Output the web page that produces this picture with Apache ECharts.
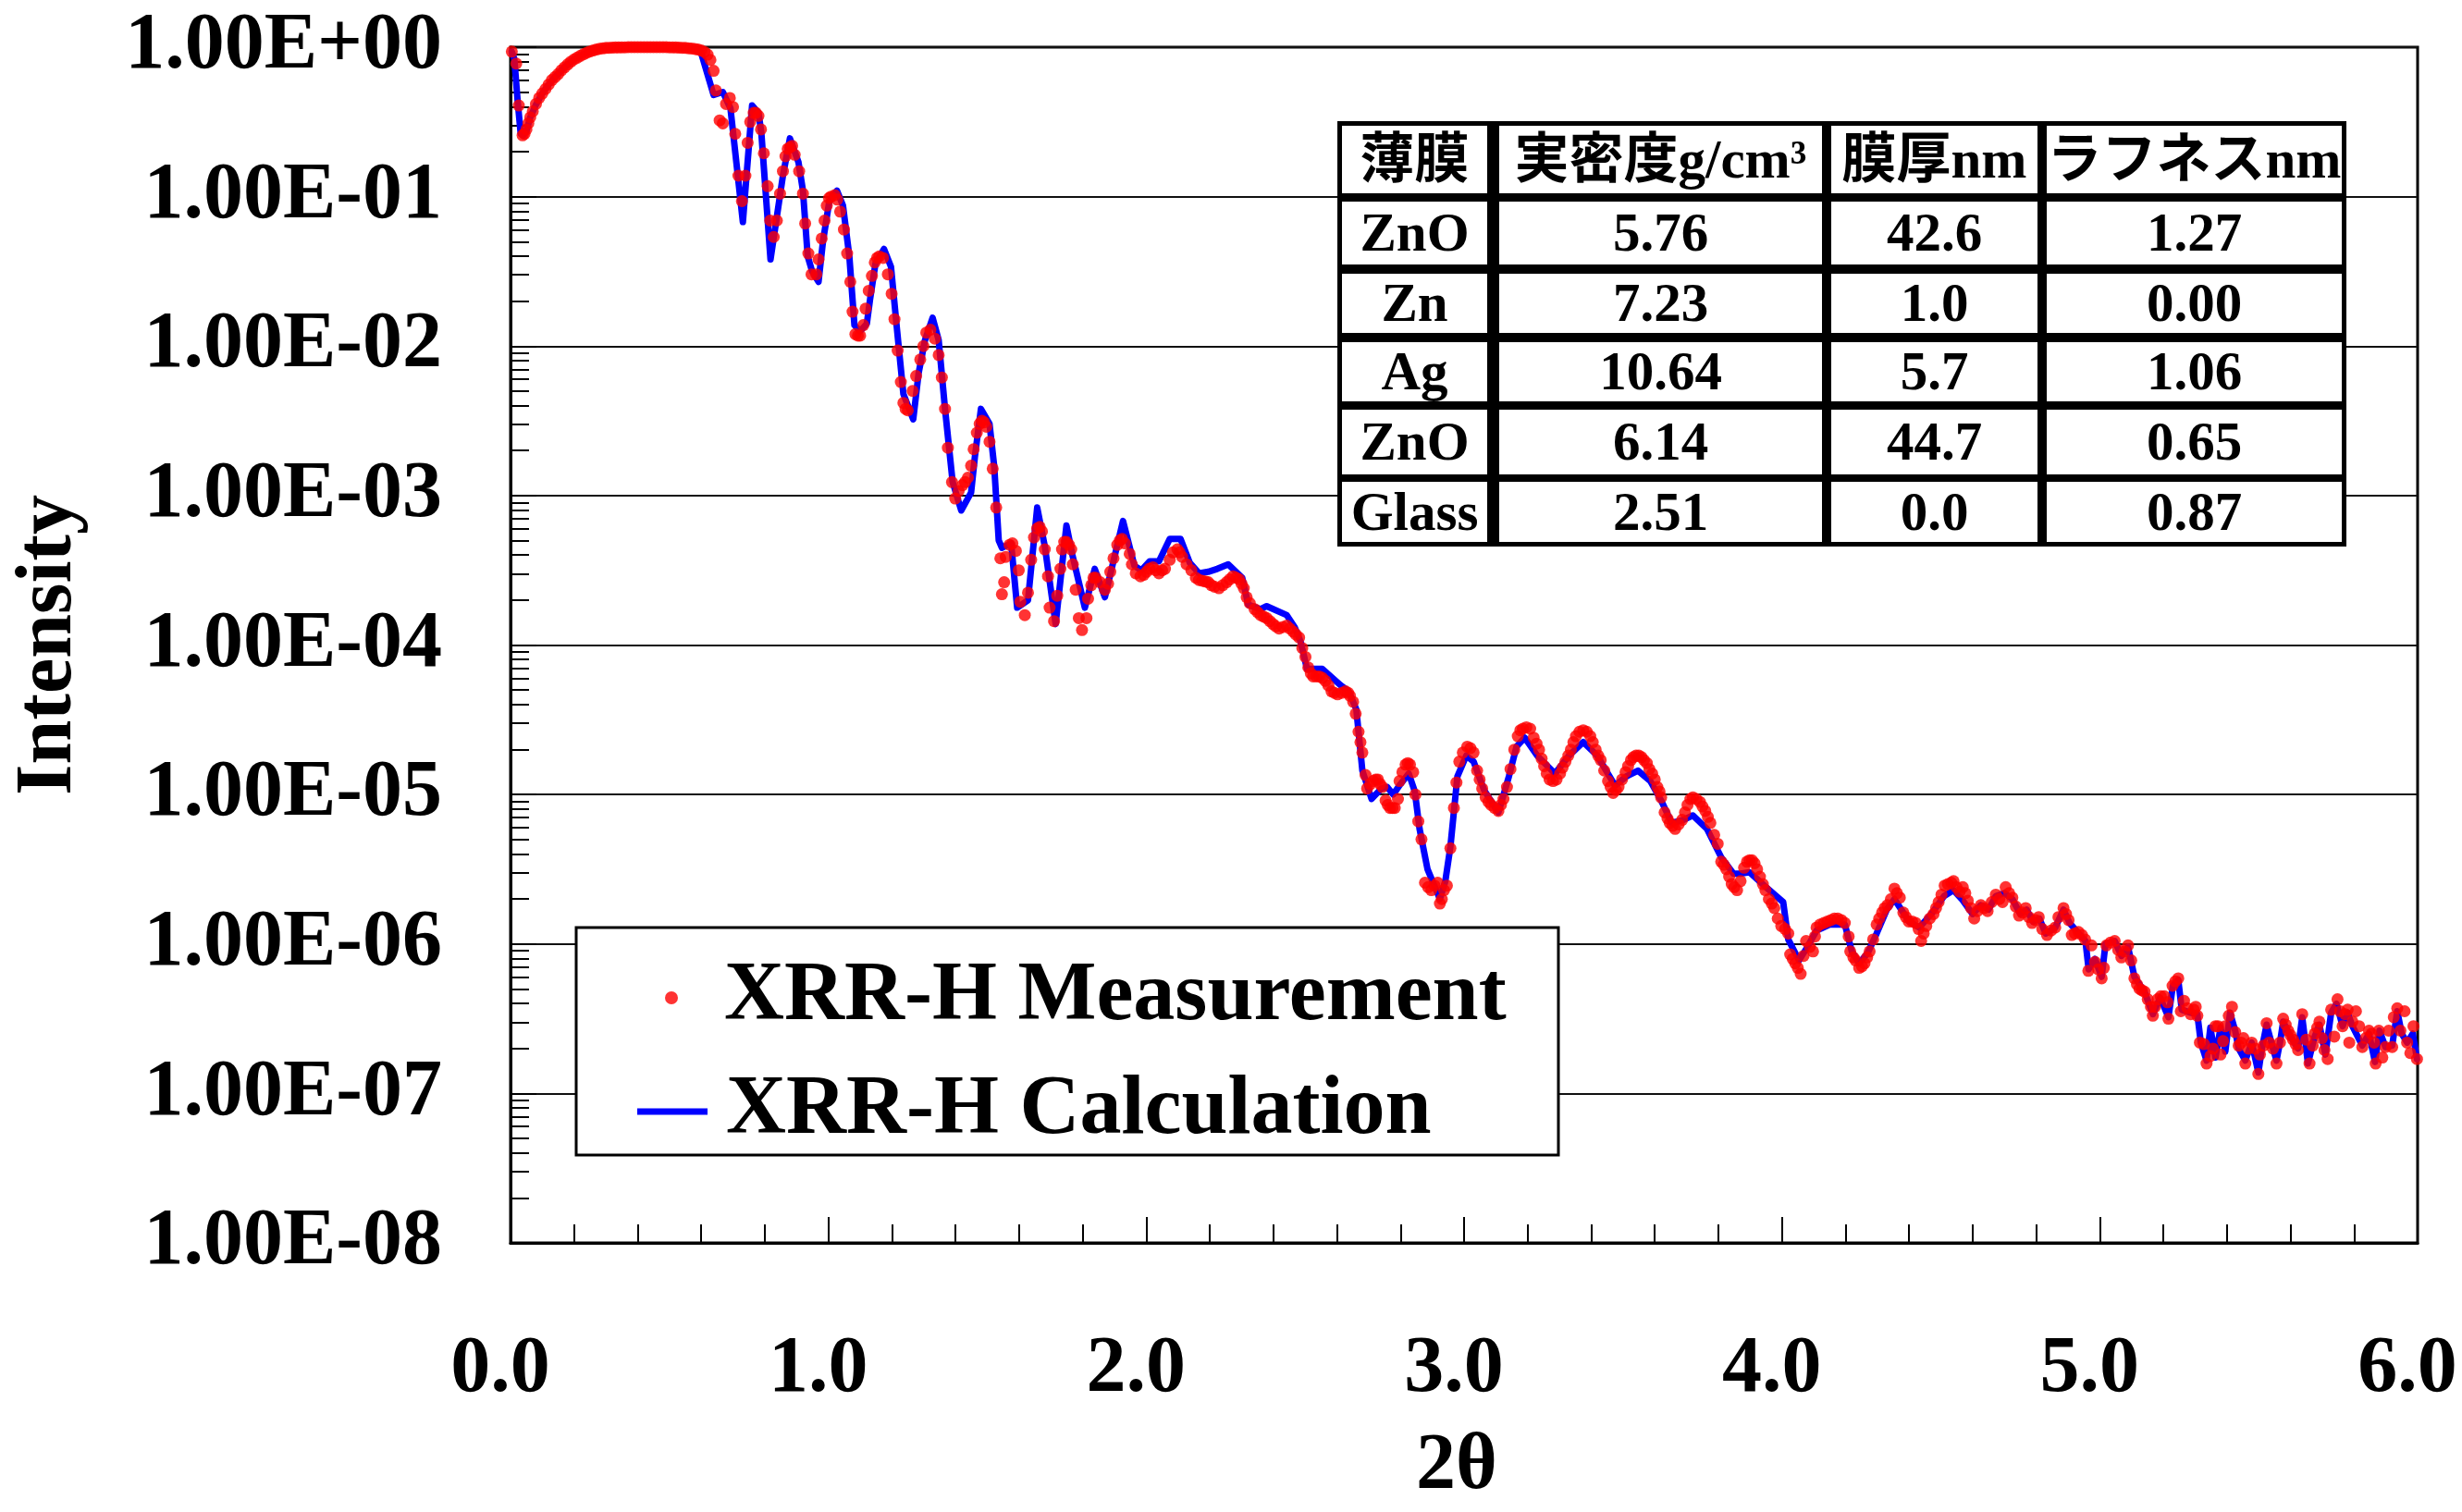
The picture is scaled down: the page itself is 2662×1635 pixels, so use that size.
<!DOCTYPE html>
<html>
<head>
<meta charset="utf-8">
<title>XRR-H</title>
<script src="https://cdn.jsdelivr.net/npm/echarts@6/dist/echarts.min.js"></script>
<style>
  html, body { margin: 0; padding: 0; background: #fff; }
  #chart { width: 2662px; height: 1635px; }
</style>
</head>
<body>
<div id="chart"></div>
<script>
// Measured reflectivity: [2θ (deg), log10(intensity)]
const measurement = [
  [0.004,-0.03],[0.018,-0.11],[0.026,-0.39],[0.038,-0.59],[0.044,-0.58],[0.050,-0.55],[0.056,-0.51],[0.062,-0.47],
  [0.070,-0.43],[0.080,-0.38],[0.090,-0.34],[0.100,-0.31],[0.110,-0.28],[0.120,-0.25],[0.130,-0.22],[0.140,-0.20],
  [0.150,-0.18],[0.160,-0.155],[0.170,-0.135],[0.180,-0.115],[0.190,-0.097],[0.200,-0.082],[0.210,-0.07],[0.220,-0.058],
  [0.230,-0.047],[0.240,-0.037],[0.250,-0.029],[0.260,-0.022],[0.270,-0.016],[0.280,-0.011],[0.290,-0.008],[0.300,-0.005],
  [0.310,-0.004],[0.320,-0.003],[0.330,-0.002],[0.340,-0.002],[0.350,-0.001],[0.360,-0.001],[0.370,0],[0.380,0],
  [0.390,0],[0.400,0],[0.410,0],[0.420,0],[0.430,0],[0.440,0],[0.450,0],[0.460,0],[0.470,0],[0.480,0],[0.490,0],
  [0.500,-0.001],[0.510,-0.001],[0.520,-0.002],[0.530,-0.003],[0.540,-0.004],[0.550,-0.005],[0.560,-0.007],[0.570,-0.009],
  [0.580,-0.012],[0.590,-0.016],[0.600,-0.022],[0.610,-0.032],[0.620,-0.05],[0.629,-0.085],[0.639,-0.158],[0.646,-0.29],
  [0.658,-0.49],[0.668,-0.51],[0.678,-0.38],[0.690,-0.34],[0.700,-0.40],[0.707,-0.58],[0.717,-0.86],[0.728,-1.03],
  [0.739,-0.86],[0.746,-0.64],[0.754,-0.50],[0.765,-0.44],[0.772,-0.44],[0.780,-0.46],[0.788,-0.55],[0.797,-0.71],
  [0.809,-0.93],[0.817,-1.16],[0.828,-1.27],[0.838,-1.16],[0.848,-0.98],[0.857,-0.83],[0.865,-0.73],[0.872,-0.68],
  [0.879,-0.67],[0.886,-0.66],[0.894,-0.72],[0.908,-0.83],[0.920,-0.98],[0.927,-1.18],[0.937,-1.38],[0.947,-1.52],
  [0.962,-1.52],[0.969,-1.42],[0.979,-1.28],[0.988,-1.16],[0.995,-1.06],[1.002,-1.01],[1.008,-1.00],[1.020,-0.99],
  [1.028,-1.02],[1.037,-1.10],[1.049,-1.22],[1.059,-1.38],[1.069,-1.57],[1.076,-1.77],[1.085,-1.92],[1.093,-1.93],
  [1.100,-1.93],[1.110,-1.86],[1.117,-1.75],[1.127,-1.63],[1.137,-1.53],[1.146,-1.44],[1.153,-1.41],[1.160,-1.40],
  [1.172,-1.41],[1.187,-1.52],[1.199,-1.65],[1.208,-1.82],[1.218,-2.03],[1.228,-2.24],[1.236,-2.38],[1.243,-2.42],
  [1.250,-2.43],[1.265,-2.30],[1.276,-2.20],[1.289,-2.09],[1.299,-2.00],[1.308,-1.91],[1.321,-1.89],[1.335,-1.95],
  [1.347,-2.06],[1.357,-2.21],[1.367,-2.42],[1.376,-2.68],[1.389,-2.91],[1.399,-3.02],[1.410,-2.97],[1.422,-2.93],
  [1.430,-2.91],[1.439,-2.88],[1.449,-2.80],[1.457,-2.69],[1.467,-2.58],[1.476,-2.52],[1.483,-2.50],[1.490,-2.51],
  [1.497,-2.54],[1.507,-2.64],[1.517,-2.82],[1.528,-3.08],[1.541,-3.42],[1.546,-3.66],[1.553,-3.58],[1.558,-3.41],
  [1.570,-3.33],[1.579,-3.32],[1.590,-3.37],[1.599,-3.50],[1.604,-3.71],[1.618,-3.80],[1.628,-3.65],[1.638,-3.43],
  [1.647,-3.28],[1.657,-3.22],[1.665,-3.21],[1.672,-3.24],[1.681,-3.36],[1.691,-3.54],[1.696,-3.75],[1.710,-3.84],
  [1.720,-3.67],[1.730,-3.49],[1.735,-3.36],[1.742,-3.31],[1.749,-3.31],[1.757,-3.33],[1.764,-3.36],[1.769,-3.46],
  [1.778,-3.63],[1.788,-3.82],[1.798,-3.90],[1.812,-3.82],[1.817,-3.69],[1.827,-3.60],[1.834,-3.55],[1.841,-3.55],
  [1.855,-3.58],[1.870,-3.63],[1.880,-3.59],[1.887,-3.51],[1.897,-3.42],[1.909,-3.33],[1.917,-3.30],[1.924,-3.29],
  [1.933,-3.32],[1.948,-3.39],[1.955,-3.46],[1.967,-3.52],[1.982,-3.54],[1.992,-3.53],[2.001,-3.51],[2.010,-3.49],
  [2.021,-3.48],[2.030,-3.50],[2.040,-3.52],[2.050,-3.50],[2.059,-3.49],[2.074,-3.43],[2.084,-3.38],[2.098,-3.36],
  [2.105,-3.38],[2.113,-3.41],[2.127,-3.46],[2.142,-3.50],[2.156,-3.55],[2.166,-3.565],[2.176,-3.57],[2.186,-3.575],
  [2.195,-3.58],[2.205,-3.60],[2.215,-3.61],[2.229,-3.62],[2.241,-3.60],[2.253,-3.58],[2.263,-3.56],[2.273,-3.54],
  [2.283,-3.55],[2.292,-3.56],[2.300,-3.59],[2.307,-3.62],[2.316,-3.68],[2.326,-3.72],[2.341,-3.76],[2.350,-3.78],
  [2.360,-3.80],[2.370,-3.81],[2.379,-3.82],[2.389,-3.84],[2.399,-3.86],[2.408,-3.875],[2.418,-3.89],[2.430,-3.88],
  [2.442,-3.87],[2.452,-3.89],[2.462,-3.91],[2.471,-3.93],[2.481,-3.95],[2.491,-4.02],[2.501,-4.08],[2.510,-4.15],
  [2.518,-4.19],[2.525,-4.21],[2.535,-4.21],[2.544,-4.21],[2.554,-4.22],[2.564,-4.24],[2.573,-4.27],[2.583,-4.31],
  [2.592,-4.32],[2.602,-4.33],[2.615,-4.32],[2.627,-4.31],[2.635,-4.32],[2.641,-4.34],[2.651,-4.38],[2.659,-4.46],
  [2.668,-4.58],[2.674,-4.65],[2.680,-4.72],[2.690,-4.87],[2.695,-4.96],[2.705,-4.93],[2.714,-4.91],[2.722,-4.90],
  [2.729,-4.90],[2.736,-4.93],[2.743,-4.95],[2.753,-5.04],[2.760,-5.07],[2.767,-5.09],[2.775,-5.09],[2.782,-5.09],
  [2.792,-5.03],[2.797,-4.91],[2.806,-4.85],[2.816,-4.80],[2.823,-4.79],[2.830,-4.80],[2.840,-4.85],[2.847,-5.00],
  [2.856,-5.18],[2.866,-5.30],[2.877,-5.59],[2.887,-5.62],[2.897,-5.64],[2.907,-5.61],[2.917,-5.59],[2.924,-5.73],
  [2.930,-5.70],[2.937,-5.64],[2.946,-5.61],[2.957,-5.36],[2.968,-5.09],[2.976,-4.92],[2.985,-4.78],[2.996,-4.72],
  [3.010,-4.68],[3.020,-4.69],[3.030,-4.72],[3.041,-4.84],[3.049,-4.90],[3.057,-4.96],[3.068,-5.02],[3.077,-5.05],
  [3.085,-5.07],[3.096,-5.09],[3.108,-5.11],[3.116,-5.07],[3.124,-5.03],[3.135,-4.95],[3.146,-4.83],[3.158,-4.70],
  [3.169,-4.61],[3.177,-4.57],[3.185,-4.56],[3.196,-4.55],[3.208,-4.56],[3.219,-4.62],[3.228,-4.66],[3.236,-4.70],
  [3.244,-4.76],[3.252,-4.81],[3.260,-4.86],[3.269,-4.90],[3.280,-4.91],[3.291,-4.90],[3.302,-4.86],[3.310,-4.82],
  [3.319,-4.78],[3.328,-4.74],[3.336,-4.70],[3.344,-4.65],[3.352,-4.61],[3.363,-4.58],[3.375,-4.57],[3.386,-4.58],
  [3.397,-4.61],[3.405,-4.65],[3.414,-4.70],[3.422,-4.74],[3.430,-4.77],[3.441,-4.84],[3.453,-4.91],[3.461,-4.95],
  [3.469,-4.99],[3.478,-4.97],[3.486,-4.95],[3.497,-4.90],[3.508,-4.85],[3.516,-4.81],[3.525,-4.77],[3.533,-4.75],
  [3.541,-4.74],[3.550,-4.74],[3.558,-4.75],[3.566,-4.77],[3.575,-4.79],[3.583,-4.83],[3.592,-4.86],[3.600,-4.90],
  [3.608,-4.95],[3.615,-4.98],[3.620,-5.02],[3.631,-5.12],[3.640,-5.16],[3.647,-5.19],[3.656,-5.21],[3.664,-5.23],
  [3.675,-5.20],[3.686,-5.17],[3.695,-5.12],[3.703,-5.07],[3.712,-5.03],[3.720,-5.02],[3.731,-5.03],[3.742,-5.05],
  [3.750,-5.08],[3.759,-5.11],[3.767,-5.15],[3.775,-5.19],[3.787,-5.27],[3.798,-5.33],[3.809,-5.45],[3.817,-5.47],
  [3.825,-5.50],[3.834,-5.55],[3.842,-5.60],[3.850,-5.62],[3.859,-5.64],[3.870,-5.58],[3.881,-5.49],[3.890,-5.45],
  [3.898,-5.44],[3.906,-5.44],[3.914,-5.46],[3.922,-5.50],[3.931,-5.55],[3.940,-5.60],[3.948,-5.64],[3.959,-5.70],
  [3.968,-5.73],[3.976,-5.76],[3.987,-5.83],[3.998,-5.88],[4.010,-5.90],[4.020,-5.93],[4.026,-6.07],[4.034,-6.10],
  [4.042,-6.13],[4.050,-6.16],[4.059,-6.20],[4.068,-6.08],[4.076,-5.98],[4.088,-6.02],[4.098,-6.05],[4.104,-5.95],
  [4.109,-5.89],[4.120,-5.87],[4.132,-5.86],[4.143,-5.85],[4.154,-5.84],[4.165,-5.83],[4.176,-5.83],[4.187,-5.84],
  [4.198,-5.86],[4.210,-5.95],[4.215,-6.05],[4.225,-6.09],[4.232,-6.11],[4.243,-6.16],[4.252,-6.15],[4.260,-6.13],
  [4.268,-6.09],[4.276,-6.05],[4.287,-5.97],[4.298,-5.87],[4.306,-5.83],[4.315,-5.79],[4.323,-5.76],[4.332,-5.74],
  [4.343,-5.70],[4.354,-5.63],[4.362,-5.66],[4.371,-5.69],[4.382,-5.79],[4.390,-5.82],[4.399,-5.85],[4.410,-5.85],
  [4.421,-5.86],[4.430,-5.90],[4.438,-5.98],[4.446,-5.93],[4.454,-5.88],[4.465,-5.83],[4.477,-5.80],[4.485,-5.76],
  [4.493,-5.72],[4.502,-5.67],[4.512,-5.61],[4.522,-5.60],[4.533,-5.59],[4.540,-5.58],[4.549,-5.62],[4.559,-5.65],
  [4.569,-5.62],[4.577,-5.66],[4.585,-5.71],[4.595,-5.76],[4.605,-5.83],[4.615,-5.78],[4.626,-5.74],[4.636,-5.76],
  [4.647,-5.78],[4.660,-5.72],[4.673,-5.67],[4.684,-5.70],[4.694,-5.72],[4.704,-5.62],[4.715,-5.66],[4.725,-5.69],
  [4.736,-5.75],[4.746,-5.81],[4.757,-5.79],[4.767,-5.76],[4.777,-5.82],[4.787,-5.86],[4.798,-5.84],[4.808,-5.82],
  [4.819,-5.90],[4.834,-5.94],[4.847,-5.91],[4.860,-5.89],[4.870,-5.82],[4.886,-5.76],[4.894,-5.80],[4.902,-5.84],
  [4.912,-5.94],[4.922,-5.93],[4.933,-5.92],[4.944,-5.94],[4.954,-5.97],[4.964,-6.18],[4.974,-6.01],[4.985,-6.12],
  [4.995,-6.17],[5.006,-6.23],[5.013,-6.16],[5.021,-6.01],[5.034,-5.99],[5.047,-5.98],[5.058,-6.04],[5.068,-6.09],
  [5.078,-6.05],[5.089,-6.01],[5.099,-6.11],[5.109,-6.23],[5.117,-6.27],[5.125,-6.30],[5.133,-6.31],[5.141,-6.32],
  [5.151,-6.37],[5.161,-6.42],[5.167,-6.48],[5.174,-6.42],[5.182,-6.37],[5.192,-6.35],[5.203,-6.35],[5.213,-6.39],
  [5.216,-6.50],[5.229,-6.28],[5.238,-6.25],[5.247,-6.23],[5.255,-6.45],[5.265,-6.38],[5.276,-6.43],[5.286,-6.47],
  [5.296,-6.44],[5.302,-6.42],[5.307,-6.48],[5.315,-6.66],[5.328,-6.67],[5.336,-6.80],[5.348,-6.75],[5.356,-6.70],
  [5.364,-6.55],[5.372,-6.55],[5.380,-6.74],[5.388,-6.65],[5.395,-6.55],[5.406,-6.48],[5.416,-6.42],[5.426,-6.59],
  [5.437,-6.68],[5.445,-6.66],[5.452,-6.63],[5.458,-6.80],[5.468,-6.70],[5.478,-6.66],[5.489,-6.70],[5.499,-6.87],
  [5.504,-6.74],[5.515,-6.68],[5.525,-6.53],[5.533,-6.66],[5.545,-6.70],[5.556,-6.80],[5.567,-6.66],[5.577,-6.50],
  [5.585,-6.54],[5.593,-6.58],[5.600,-6.61],[5.608,-6.64],[5.616,-6.67],[5.624,-6.71],[5.637,-6.47],[5.650,-6.64],
  [5.660,-6.80],[5.670,-6.68],[5.676,-6.60],[5.684,-6.56],[5.691,-6.52],[5.699,-6.63],[5.707,-6.71],[5.717,-6.77],
  [5.728,-6.44],[5.738,-6.62],[5.748,-6.37],[5.756,-6.45],[5.764,-6.55],[5.772,-6.47],[5.780,-6.44],[5.785,-6.66],
  [5.795,-6.52],[5.806,-6.45],[5.816,-6.55],[5.826,-6.69],[5.837,-6.63],[5.847,-6.58],[5.855,-6.60],[5.863,-6.66],
  [5.868,-6.80],[5.878,-6.58],[5.889,-6.76],[5.899,-6.69],[5.909,-6.58],[5.920,-6.69],[5.925,-6.49],[5.936,-6.43],
  [5.946,-6.58],[5.959,-6.45],[5.967,-6.66],[5.977,-6.73],[5.987,-6.55],[5.998,-6.77]
];

// Fitted model curve: [2θ (deg), log10(intensity)]
const calculation = [
  [0.004,-0.03],[0.012,-0.08],[0.022,-0.35],[0.032,-0.58],[0.040,-0.59],[0.050,-0.56],[0.062,-0.47],[0.081,-0.38],
  [0.100,-0.31],[0.120,-0.25],[0.140,-0.20],[0.160,-0.155],[0.180,-0.115],[0.200,-0.082],[0.220,-0.058],[0.240,-0.037],
  [0.260,-0.022],[0.300,-0.006],[0.350,-0.002],[0.400,0],[0.450,0],[0.500,0],[0.550,-0.005],[0.580,-0.012],
  [0.600,-0.04],[0.639,-0.32],[0.668,-0.30],[0.692,-0.41],[0.731,-1.17],[0.760,-0.39],[0.780,-0.44],[0.789,-0.57],
  [0.818,-1.42],[0.857,-0.86],[0.879,-0.61],[0.906,-0.77],[0.920,-0.96],[0.935,-1.40],[0.949,-1.50],[0.969,-1.57],
  [0.983,-1.30],[1.003,-1.03],[1.027,-0.96],[1.046,-1.06],[1.066,-1.40],[1.082,-1.86],[1.100,-1.90],[1.121,-1.85],
  [1.131,-1.69],[1.148,-1.45],[1.175,-1.35],[1.197,-1.47],[1.216,-1.89],[1.236,-2.32],[1.267,-2.49],[1.284,-2.18],
  [1.304,-1.96],[1.328,-1.81],[1.347,-1.96],[1.367,-2.42],[1.391,-2.91],[1.418,-3.10],[1.449,-2.98],[1.461,-2.74],
  [1.480,-2.42],[1.507,-2.52],[1.522,-2.81],[1.536,-3.30],[1.546,-3.35],[1.575,-3.32],[1.594,-3.75],[1.628,-3.70],
  [1.657,-3.08],[1.681,-3.34],[1.715,-3.86],[1.749,-3.20],[1.768,-3.40],[1.807,-3.75],[1.838,-3.49],[1.870,-3.68],
  [1.927,-3.17],[1.963,-3.47],[1.985,-3.50],[2.011,-3.44],[2.040,-3.44],[2.074,-3.29],[2.108,-3.29],[2.137,-3.45],
  [2.166,-3.52],[2.195,-3.51],[2.224,-3.49],[2.258,-3.46],[2.302,-3.55],[2.321,-3.73],[2.360,-3.76],[2.379,-3.74],
  [2.442,-3.80],[2.467,-3.88],[2.486,-3.98],[2.506,-4.16],[2.554,-4.16],[2.612,-4.27],[2.637,-4.31],[2.661,-4.43],
  [2.680,-4.84],[2.709,-5.03],[2.740,-4.96],[2.758,-4.95],[2.777,-5.00],[2.800,-4.93],[2.826,-4.86],[2.845,-4.98],
  [2.860,-5.23],[2.885,-5.50],[2.924,-5.70],[2.941,-5.58],[2.957,-5.35],[2.979,-4.88],[3.007,-4.74],[3.030,-4.78],
  [3.063,-4.97],[3.108,-5.12],[3.141,-4.88],[3.165,-4.68],[3.191,-4.62],[3.230,-4.74],[3.286,-4.86],[3.330,-4.74],
  [3.375,-4.65],[3.419,-4.74],[3.475,-4.94],[3.510,-4.88],[3.547,-4.84],[3.586,-4.91],[3.620,-5.04],[3.653,-5.19],
  [3.690,-5.17],[3.720,-5.14],[3.764,-5.23],[3.809,-5.42],[3.848,-5.53],[3.870,-5.53],[3.898,-5.52],[3.950,-5.62],
  [4.004,-5.72],[4.020,-5.97],[4.054,-6.11],[4.080,-6.02],[4.109,-5.91],[4.150,-5.87],[4.198,-5.87],[4.220,-6.05],
  [4.243,-6.13],[4.270,-6.06],[4.298,-5.93],[4.330,-5.77],[4.354,-5.70],[4.400,-5.85],[4.432,-5.89],[4.470,-5.80],
  [4.510,-5.68],[4.540,-5.64],[4.566,-5.70],[4.600,-5.80],[4.626,-5.74],[4.650,-5.77],[4.673,-5.68],[4.700,-5.66],
  [4.725,-5.70],[4.750,-5.80],[4.770,-5.77],[4.790,-5.85],[4.810,-5.83],[4.830,-5.93],[4.860,-5.89],[4.886,-5.77],
  [4.905,-5.86],[4.930,-5.92],[4.955,-5.98],[4.965,-6.17],[4.985,-6.10],[5.006,-6.22],[5.018,-6.00],[5.047,-5.98],
  [5.068,-6.08],[5.089,-6.02],[5.109,-6.22],[5.141,-6.32],[5.167,-6.47],[5.190,-6.36],[5.216,-6.49],[5.230,-6.28],
  [5.247,-6.24],[5.258,-6.44],[5.286,-6.46],[5.307,-6.47],[5.318,-6.66],[5.336,-6.78],[5.348,-6.56],[5.364,-6.76],
  [5.380,-6.56],[5.395,-6.72],[5.410,-6.46],[5.426,-6.58],[5.437,-6.70],[5.458,-6.78],[5.478,-6.66],[5.499,-6.86],
  [5.510,-6.70],[5.525,-6.54],[5.545,-6.70],[5.556,-6.78],[5.567,-6.66],[5.577,-6.52],[5.600,-6.62],[5.624,-6.70],
  [5.637,-6.49],[5.655,-6.80],[5.676,-6.62],[5.691,-6.54],[5.710,-6.74],[5.728,-6.46],[5.745,-6.40],[5.764,-6.55],
  [5.780,-6.46],[5.795,-6.55],[5.826,-6.68],[5.847,-6.60],[5.866,-6.79],[5.880,-6.58],[5.899,-6.69],[5.920,-6.68],
  [5.936,-6.45],[5.950,-6.60],[5.967,-6.66],[5.985,-6.60],[5.998,-6.77]
];

const xTickLabels = ['0.0', '1.0', '2.0', '3.0', '4.0', '5.0', '6.0'];
const yTickLabels = ['1.00E-08', '1.00E-07', '1.00E-06', '1.00E-05', '1.00E-04', '1.00E-03', '1.00E-02', '1.00E-01', '1.00E+00'];

// Layer model table
const tableHeader = ['薄膜', '実密度g/cm³', '膜厚nm', 'ラフネスnm'];
const layerNames = ['ZnO', 'Zn', 'Ag', 'ZnO', 'Glass'];
const densities = ['5.76', '7.23', '10.64', '6.14', '2.51'];
const thicknesses = ['42.6', '1.0', '5.7', '44.7', '0.0'];
const roughnesses = ['1.27', '0.00', '1.06', '0.65', '0.87'];

const SERIF = '"Liberation Serif", "Times New Roman", serif';
const MIXED = '"Liberation Serif", "Noto Sans CJK JP", serif';

const toPoints = arr => arr.map(p => [p[0], Math.pow(10, p[1])]);

// table geometry (pixels)
const tbl = { x: 1446, y: 131, w: 1091, h: 460 };
const cellCols = [[1451, 1608], [1621, 1970], [1980, 2203], [2213, 2532]];
const cellRows = [[136, 209], [218, 286], [296, 360], [370, 434], [443, 513], [521, 586]];

const tableRows = [tableHeader].concat(layerNames.map((n, i) => [n, densities[i], thicknesses[i], roughnesses[i]]));
const tableGraphics = [{
  type: 'rect', z: 10,
  shape: { x: tbl.x, y: tbl.y, width: tbl.w, height: tbl.h },
  style: { fill: '#000' }
}];
tableRows.forEach((row, r) => {
  row.forEach((txt, c) => {
    const [x0, x1] = cellCols[c];
    const [y0, y1] = cellRows[r];
    tableGraphics.push({
      type: 'rect', z: 11,
      shape: { x: x0, y: y0, width: x1 - x0, height: y1 - y0 },
      style: { fill: '#fff' }
    });
    tableGraphics.push({
      type: 'text', z: 12,
      style: {
        text: txt, x: (x0 + x1) / 2, y: (y0 + y1) / 2 + 4,
        align: 'center', verticalAlign: 'middle',
        font: 'bold 59px ' + MIXED, fill: '#000'
      }
    });
  });
});

const legendBox = {
  type: 'rect', z: 10,
  shape: { x: 623, y: 1003, width: 1062, height: 246 },
  style: { fill: '#fff', stroke: '#000', lineWidth: 3 }
};

const legendText = {
  fontFamily: SERIF, fontWeight: 'bold', fontSize: 90, color: '#000',
  lineHeight: 100, padding: [0, 0, 0, 15]
};

const chart = echarts.init(document.getElementById('chart'), null, { renderer: 'canvas' });
chart.setOption({
  animation: false,
  backgroundColor: '#fff',
  grid: {
    left: 552, top: 51, right: 48, bottom: 285,
    show: true, borderColor: '#000', borderWidth: 3, backgroundColor: 'transparent'
  },
  xAxis: {
    type: 'value', min: 0, max: 6, interval: 1,
    name: '2θ', nameLocation: 'middle', nameGap: 200,
    nameTextStyle: { fontFamily: SERIF, fontWeight: 'bold', fontSize: 86, color: '#000', padding: [0, 16, 0, 0] },
    axisLine: { show: true, lineStyle: { color: '#000', width: 3 } },
    axisTick: { show: true, inside: true, length: 28, lineStyle: { color: '#000', width: 2 } },
    minorTick: { show: true, splitNumber: 5, length: 20, lineStyle: { color: '#000', width: 2 } },
    splitLine: { show: false },
    axisLabel: {
      margin: 95, fontFamily: SERIF, fontWeight: 'bold', fontSize: 86, color: '#000',
      padding: [0, 22, 0, 0],
      formatter: v => xTickLabels[Math.round(v)]
    }
  },
  yAxis: {
    type: 'log', logBase: 10, min: 1e-8, max: 1,
    name: 'Intensity', nameLocation: 'middle', nameGap: 455, nameRotate: 90,
    nameTextStyle: { fontFamily: SERIF, fontWeight: 'bold', fontSize: 86, color: '#000' },
    axisLine: { show: true, lineStyle: { color: '#000', width: 3 } },
    axisTick: { show: true, inside: true, length: 28, lineStyle: { color: '#000', width: 2 } },
    minorTick: { show: true, splitNumber: 9, length: 20, lineStyle: { color: '#000', width: 2 } },
    splitLine: { show: true, lineStyle: { color: '#111', width: 2 } },
    axisLabel: {
      margin: 74, fontFamily: SERIF, fontWeight: 'bold', fontSize: 86, color: '#000',
      padding: [10, 0, 0, 0],
      formatter: v => yTickLabels[Math.round(Math.log10(v)) + 8]
    }
  },
  legend: [
    {
      z: 20, left: 719, top: 1029, padding: 0, selectedMode: false,
      itemWidth: 74, itemHeight: 14,
      data: [{ name: 'XRR-H Measurement', icon: 'circle' }],
      textStyle: legendText
    },
    {
      z: 20, left: 689, top: 1152, padding: 0, selectedMode: false,
      itemWidth: 76, itemHeight: 7,
      data: [{ name: 'XRR-H Calculation', icon: 'rect' }],
      textStyle: legendText
    }
  ],
  graphic: { elements: [legendBox].concat(tableGraphics) },
  series: [
    {
      name: 'XRR-H Calculation', type: 'line', z: 2,
      data: toPoints(calculation),
      showSymbol: false, symbol: 'none', clip: false,
      lineStyle: { color: '#0000ff', width: 7, join: 'round', cap: 'round' },
      itemStyle: { color: '#0000ff' }
    },
    {
      name: 'XRR-H Measurement', type: 'scatter', z: 3,
      data: toPoints(measurement),
      symbol: 'circle', symbolSize: 13, clip: false,
      itemStyle: { color: '#ff0000' }
    }
  ]
});
</script>
</body>
</html>
